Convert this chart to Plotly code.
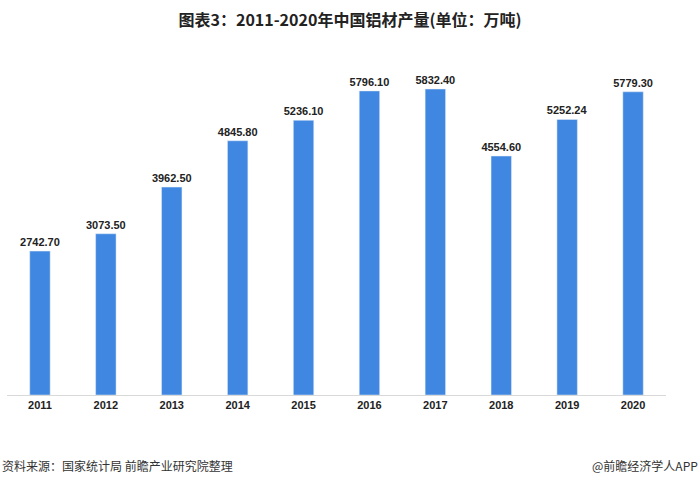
import plotly.graph_objects as go

years = ["2011", "2012", "2013", "2014", "2015", "2016", "2017", "2018", "2019", "2020"]
output = [2742.70, 3073.50, 3962.50, 4845.80, 5236.10, 5796.10, 5832.40, 4554.60, 5252.24, 5779.30]
labels = [f"{v:.2f}" for v in output]

fig = go.Figure()
fig.add_trace(go.Bar(
    x=years, y=output, text=labels, textposition="outside", constraintext="none",
    texttemplate="<b>%{text}</b>",
    textfont=dict(family="Liberation Sans, Arial", size=11, color="#222222"),
    marker=dict(color="#3F87E0"), width=0.31, cliponaxis=False,
))

fig.update_layout(
    width=700, height=486,
    margin=dict(l=7, r=34, t=54, b=91),
    paper_bgcolor="white", plot_bgcolor="white",
    showlegend=False,
    title=dict(text="<b>图表3：2011-2020年中国铝材产量(单位：万吨)</b>",
               x=0.5, xanchor="center", y=0.958, yanchor="middle",
               font=dict(family="Noto Sans CJK SC", size=16, color="#222222")),
    xaxis=dict(showline=True, linecolor="#D9D9D9", linewidth=1, ticks="",
               tickvals=years, ticktext=[f"<b>{y}</b>" for y in years],
               tickfont=dict(family="Liberation Sans, Arial", size=11, color="#222222")),
    yaxis=dict(visible=False, range=[0, 6500]),
    font=dict(family="Liberation Sans, Arial"),
)

fig.add_annotation(text="资料来源：国家统计局 前瞻产业研究院整理", xref="paper", yref="paper",
                   x=-0.01, y=0, yshift=-70, xanchor="left", yanchor="middle", showarrow=False,
                   font=dict(family="Noto Sans CJK SC", size=12, color="#333333"))
fig.add_annotation(text="@前瞻经济学人APP", xref="paper", yref="paper",
                   x=1.052, y=0, yshift=-70, xanchor="right", yanchor="middle", showarrow=False,
                   font=dict(family="Noto Sans CJK SC", size=12, color="#333333"))

fig.write_html("out.html")
